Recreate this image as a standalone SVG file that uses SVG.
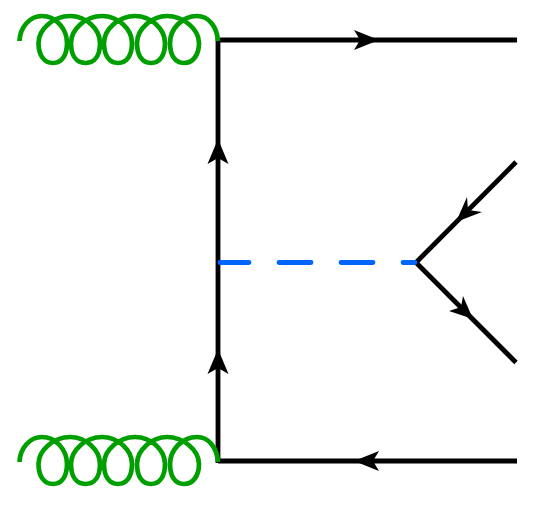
<svg xmlns="http://www.w3.org/2000/svg" width="552" height="515" viewBox="0 0 552 515">
<style>
.f{fill:none;stroke:#000;stroke-width:4.8}
.g{fill:none;stroke:#009f00;stroke-width:4.7}
.b{fill:none;stroke:#0066ff;stroke-width:4.8;stroke-linecap:round}
.a{fill:#000;stroke:none}
</style>
<defs>
<path id="coil" d="M19.500,41 C20,27 30,16 42,16 C56,16 67,29 67,43 C67,55 62,63 53,63 C44,63 38.500,55 38.500,43 C38.500,29 54,16 70,16 C86,16 100,29 100,43 C100,55 95,63 85.500,63 C76,63 71,55 71,43 C71,29 86,16 102,16 C118,16 132,29 132,43 C132,55 127,63 118,63 C109,63 104,55 104,43 C104,29 119,16 135,16 C151,16 165,29 165,43 C165,55 160,63 151,63 C142,63 137,55 137,43 C137,29 152,16 167,16 C183,16 199,29 199,43 C199,55 193,63 184,63 C175,63 170,55 170,43 C170,29 182,16 197,16 C209,16 217,27 218,41"/>
</defs>
<g id="connectors">
<path id="top-quark" class="f" d="M218,40H517"/>
<path id="bottom-quark" class="f" d="M218,461H517"/>
<path id="t-channel" class="f" d="M218,38V463"/>
<path id="decay-up" class="f" d="M516,162L416,262.500"/>
<path id="decay-down" class="f" d="M416,262.500L516,362.500"/>
<path id="boson" class="b" d="M220,262.500H249M279,262.500H311M341,262.500H373M403,262.500H415"/>
<use id="gluon-top" href="#coil" class="g"/>
<use id="gluon-bottom" href="#coil" class="g" y="421"/>
<path class="a" d="M379,40L354,30L360,40L354,50Z"/>
<path class="a" d="M354,461L379,451L373,461L379,471Z"/>
<path class="a" d="M218,139L207.500,164L218,158L228.500,164Z"/>
<path class="a" d="M218,349L207.500,374L218,368L228.500,374Z"/>
<path class="a" d="M456,222L467,197L468,210L482,212Z"/>
<path class="a" d="M473,319L463,296L461,307L449,311Z"/>
</g>
</svg>
